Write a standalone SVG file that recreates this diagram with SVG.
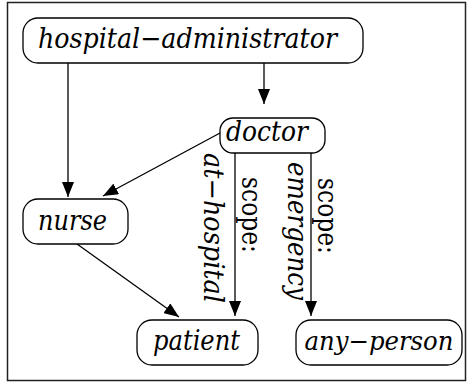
<svg xmlns="http://www.w3.org/2000/svg" width="468" height="383" viewBox="0 0 468 383">
<style>
.node rect{fill:#fff;stroke:#000;stroke-width:1.3}
.node text{font-family:'DejaVu Serif',serif;font-style:italic;font-size:28px;fill:#000}
.edge{fill:none;stroke:#000;stroke-width:1.3}
.lbl{font-family:'DejaVu Serif',serif;font-size:27px;fill:#000}
.it{font-style:italic}
</style>
<defs>
<marker id="ah" markerWidth="15" markerHeight="12" refX="15" refY="6" orient="auto" markerUnits="userSpaceOnUse">
<path d="M0,0 L15,6 L0,12 Z" fill="#000"/>
</marker>
</defs>
<rect x="7.5" y="2.5" width="458" height="378" fill="#fff" stroke="#222" stroke-width="1.5"/>
<g id="connectors">
<line class="edge" x1="264" y1="63" x2="264" y2="104" marker-end="url(#ah)"/>
<line class="edge" x1="68" y1="63" x2="68" y2="197" marker-end="url(#ah)"/>
<line class="edge" x1="220" y1="133" x2="103" y2="196" marker-end="url(#ah)"/>
<line class="edge" x1="77" y1="244" x2="179" y2="317" marker-end="url(#ah)"/>
<line class="edge" x1="235" y1="153" x2="235" y2="316" marker-end="url(#ah)"/>
<line class="edge" x1="311" y1="153" x2="311" y2="316" marker-end="url(#ah)"/>
<text class="lbl it" transform="translate(204,153) rotate(90)" textLength="150" lengthAdjust="spacingAndGlyphs">at−hospital</text>
<text class="lbl" transform="translate(241.5,177) rotate(90)" textLength="76" lengthAdjust="spacingAndGlyphs">scope:</text>
<text class="lbl it" transform="translate(288,162) rotate(90)" textLength="138" lengthAdjust="spacingAndGlyphs">emergency</text>
<text class="lbl" transform="translate(317.5,178) rotate(90)" textLength="76" lengthAdjust="spacingAndGlyphs">scope:</text>
</g>
<g id="hospital-administrator" class="node">
<rect x="23" y="18" width="340" height="45" rx="15" ry="15"/>
<text x="38" y="48" textLength="299" lengthAdjust="spacingAndGlyphs">hospital−administrator</text>
</g>
<g id="doctor" class="node">
<rect x="220" y="118" width="105" height="35" rx="13" ry="13"/>
<text x="226" y="141" textLength="82" lengthAdjust="spacingAndGlyphs">doctor</text>
</g>
<g id="nurse" class="node">
<rect x="23" y="199" width="105" height="45" rx="15" ry="15"/>
<text x="38" y="230" textLength="69" lengthAdjust="spacingAndGlyphs">nurse</text>
</g>
<g id="patient" class="node">
<rect x="137" y="320" width="121" height="45" rx="15" ry="15"/>
<text x="153" y="350" textLength="87" lengthAdjust="spacingAndGlyphs">patient</text>
</g>
<g id="any-person" class="node">
<rect x="296" y="320" width="166" height="45" rx="15" ry="15"/>
<text x="379" y="350" style="font-size:26px" text-anchor="middle" textLength="149" lengthAdjust="spacingAndGlyphs">any−person</text>
</g>
</svg>
